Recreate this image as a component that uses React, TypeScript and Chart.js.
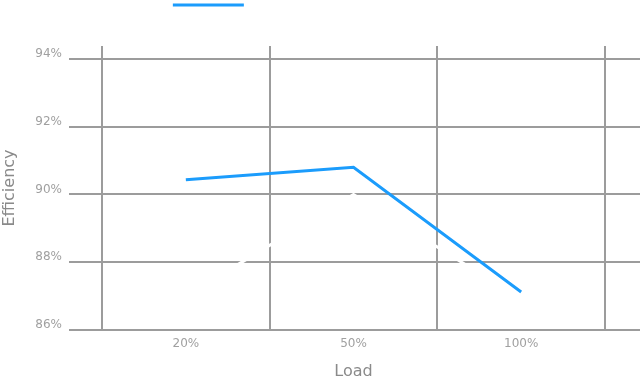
import React, { useEffect, useRef } from "react";
import { Chart, registerables } from "chart.js";

Chart.register(...registerables);

// ---- data ----
const loadLabels: string[] = ["20%", "50%", "100%"];
const measuredEfficiency: number[] = [90.43, 90.8, 87.12];
const referenceEfficiency: number[] = [87.0, 90.0, 86.9];
const yTickValues: number[] = [86, 88, 90, 92, 94];
const yMin = 86;
const yMax = 94.38;

const seriesNames: string[] = ["Measured efficiency", "Target curve"];

const BLUE = "#1b9cfc";
const GRID = "#9c9c9c";
const TICK = "#a0a0a0";
const TITLE = "#8a8a8a";
const FONT = "'DejaVu Sans', sans-serif";

export default function App() {
  const ref = useRef<HTMLCanvasElement | null>(null);

  useEffect(() => {
    if (!ref.current) return;
    const setTicks = (axis: any) => {
      axis.ticks = yTickValues.map((v) => ({ value: v }));
    };
    const chart = new Chart(ref.current, {
      type: "line",
      data: {
        labels: loadLabels,
        datasets: [
          {
            label: seriesNames[0],
            data: measuredEfficiency,
            borderColor: BLUE,
            backgroundColor: BLUE,
            borderWidth: 3,
            pointRadius: 0,
            tension: 0,
            fill: false,
          },
          {
            label: seriesNames[1],
            data: referenceEfficiency,
            borderColor: "#ffffff",
            backgroundColor: "#ffffff",
            borderWidth: 3,
            pointRadius: 0,
            tension: 0,
            fill: false,
          },
        ],
      },
      options: {
        responsive: false,
        animation: false,
        layout: { padding: 0 },
        plugins: {
          tooltip: { enabled: false },
          legend: {
            display: true,
            position: "top",
            labels: {
              boxWidth: 71,
              boxHeight: 3,
              padding: 0,
              color: "#ffffff",
              font: { family: "Lato, sans-serif", size: 10 },
              generateLabels: (c: any) =>
                Chart.defaults.plugins.legend.labels
                  .generateLabels(c)
                  .map((it: any) => ({ ...it, lineWidth: 0, fillStyle: it.strokeStyle })),
            },
          },
          title: {
            display: true,
            text: "",
            weight: 500,
            padding: 0,
            font: { size: 10, lineHeight: "26px" },
          },
        },
        scales: {
          x: {
            type: "category",
            offset: true,
            grid: {
              offset: true,
              color: GRID,
              lineWidth: 2,
              drawTicks: false,
            },
            border: { display: false },
            ticks: {
              color: TICK,
              padding: 7,
              font: { family: FONT, size: 12 },
              maxRotation: 0,
            },
            title: {
              display: true,
              text: "Load",
              color: TITLE,
              font: { family: FONT, size: 16 },
              padding: { top: 0, bottom: 0 },
            },
            afterFit: (s: any) => {
              s.height = 51;
            },
          },
          y: {
            type: "linear",
            position: "left",
            min: yMin,
            max: yMax,
            afterBuildTicks: setTicks,
            grid: {
              color: GRID,
              lineWidth: 2,
              tickLength: 33,
            },
            border: { display: false },
            ticks: {
              color: TICK,
              padding: 7,
              labelOffset: -5,
              font: { family: FONT, size: 12 },
              callback: (v: any) => `${v}%`,
            },
            title: {
              display: true,
              text: "Efficiency",
              color: TITLE,
              font: { family: FONT, size: 16 },
              padding: { top: 0, bottom: 0 },
            },
            afterFit: (s: any) => {
              s.width = 102;
            },
          },
          y2: {
            type: "linear",
            position: "right",
            min: yMin,
            max: yMax,
            afterBuildTicks: setTicks,
            grid: {
              color: GRID,
              lineWidth: 2,
              tickLength: 35,
              drawOnChartArea: false,
            },
            border: { display: false },
            ticks: { display: false },
            afterFit: (s: any) => {
              s.width = 35;
            },
          },
        },
      },
    });
    return () => chart.destroy();
  }, []);

  return (
    <div style={{ position: "absolute", left: 0, top: 0, width: 640, height: 381, background: "#fff" }}>
      <canvas ref={ref} width={640} height={381} style={{ display: "block" }} />
    </div>
  );
}
